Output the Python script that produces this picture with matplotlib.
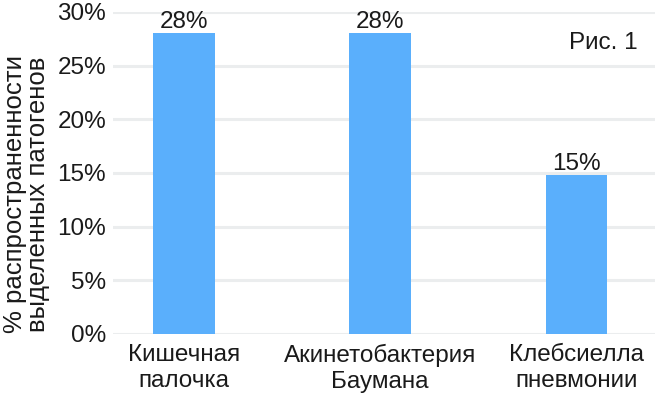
import matplotlib
matplotlib.use("Agg")
import matplotlib.pyplot as plt

# data
categories = ["Кишечная\nпалочка", "Акинетобактерия\nБаумана", "Клебсиелла\nпневмонии"]
values = [28.0, 28.0, 14.8]
yticks = [0, 5, 10, 15, 20, 25, 30]

_BAR = "#5AAFFC"
_GRID = "#EBEDEE"
_TXT = "#1A1A1A"
_FS = 17.5

plt.rcParams["font.family"] = ["Liberation Sans", "DejaVu Sans"]

fig = plt.figure(figsize=(6.55, 3.96), dpi=100)
ax = fig.add_axes([0.1725, 0.1566, 0.8275, 0.8131])

x = list(range(len(categories)))
ax.bar(x, values, width=0.315, color=_BAR, zorder=2)
for xi, v in zip(x, values):
    ax.text(xi, v, f"{v:.0f}%", ha="center", va="bottom", fontsize=_FS, color=_TXT)

ax.set_xlim(-0.36, 2.4)
ax.set_ylim(0, 30)
ax.set_yticks(yticks)
ax.set_yticklabels([f"{t}%" for t in yticks])
ax.set_xticks(x)
ax.set_xticklabels(categories, linespacing=1.25)
ax.tick_params(axis="both", length=0, labelsize=_FS, colors=_TXT)
ax.tick_params(axis="y", pad=5)
ax.tick_params(axis="x", pad=7)

ax.grid(True, axis="y", color=_GRID, linewidth=2.2, zorder=0)
ax.set_axisbelow(True)
for s in ax.spines.values():
    s.set_visible(False)

ax.set_ylabel("% распространенности\nвыделенных патогенов", fontsize=18.5,
              color=_TXT, linespacing=0.95)
ax.yaxis.set_label_coords(-0.117, 0.435)

ax.text(0.968, 0.905, "Рис. 1", transform=ax.transAxes, ha="right", va="center",
        fontsize=_FS, color=_TXT)

fig.savefig("out.png", dpi=100)
